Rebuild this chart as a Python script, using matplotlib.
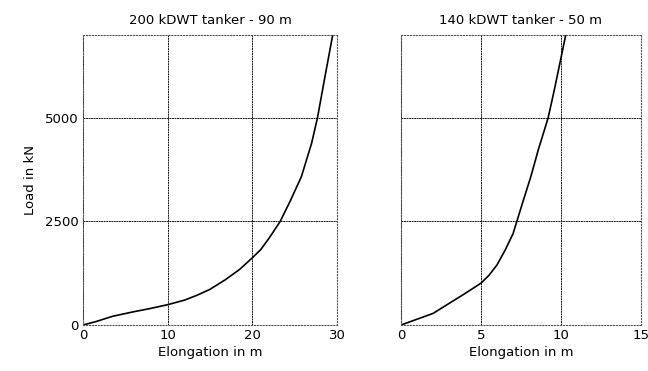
import matplotlib.pyplot as plt

# 200 kDWT tanker - 90 m
elong_200 = [0, 1.5, 3.5, 6, 8, 10, 12, 13.5, 15, 16.8, 18.5, 20, 21, 22, 23.3, 24.5, 25.8, 27, 27.7, 28.5, 29.5]
load_200 = [0, 80, 210, 320, 400, 490, 600, 720, 860, 1090, 1340, 1620, 1820, 2100, 2500, 3000, 3580, 4380, 5000, 5900, 7000]

# 140 kDWT tanker - 50 m
elong_140 = [0, 1, 2, 3, 4, 5, 5.5, 6, 6.5, 7, 7.2, 7.6, 8.1, 8.6, 9.2, 9.6, 10.0, 10.3]
load_140 = [0, 140, 280, 520, 760, 1010, 1200, 1450, 1800, 2200, 2450, 2950, 3560, 4250, 5000, 5700, 6440, 7000]

x_ticks_200 = [0, 10, 20, 30]
x_ticks_140 = [0, 5, 10, 15]
y_ticks = [0, 2500, 5000]

plt.rcParams['font.family'] = ['DejaVu Sans']
fs = 9.5

fig = plt.figure(figsize=(6.48, 3.71), dpi=100)
ax1 = fig.add_axes([0.128, 0.124, 0.392, 0.782])
ax2 = fig.add_axes([0.619, 0.124, 0.370, 0.782])

panels = [
    (ax1, elong_200, load_200, x_ticks_200, '200 kDWT tanker - 90 m'),
    (ax2, elong_140, load_140, x_ticks_140, '140 kDWT tanker - 50 m'),
]

for ax, x, y, xt, title in panels:
    ax.plot(x, y, color='black', linewidth=1.2)
    ax.set_xlim(xt[0], xt[-1])
    ax.set_ylim(0, 7000)
    ax.set_xticks(xt)
    ax.set_yticks(y_ticks)
    ax.grid(True, color='#1a1a1a', linewidth=0.7, linestyle=(0, (2, 0.6)))
    ax.tick_params(length=0, pad=3, labelsize=fs)
    ax.set_xlabel('Elongation in m', fontsize=fs, labelpad=3)
    ax.set_title(title, fontsize=fs, pad=8)
    for s in ax.spines.values():
        s.set_linestyle(':')
        s.set_color('#555555')
        s.set_linewidth(0.8)

ax1.set_ylabel('Load in kN', fontsize=fs, labelpad=6)
ax2.set_yticklabels([])

fig.savefig('out.png', dpi=100)
